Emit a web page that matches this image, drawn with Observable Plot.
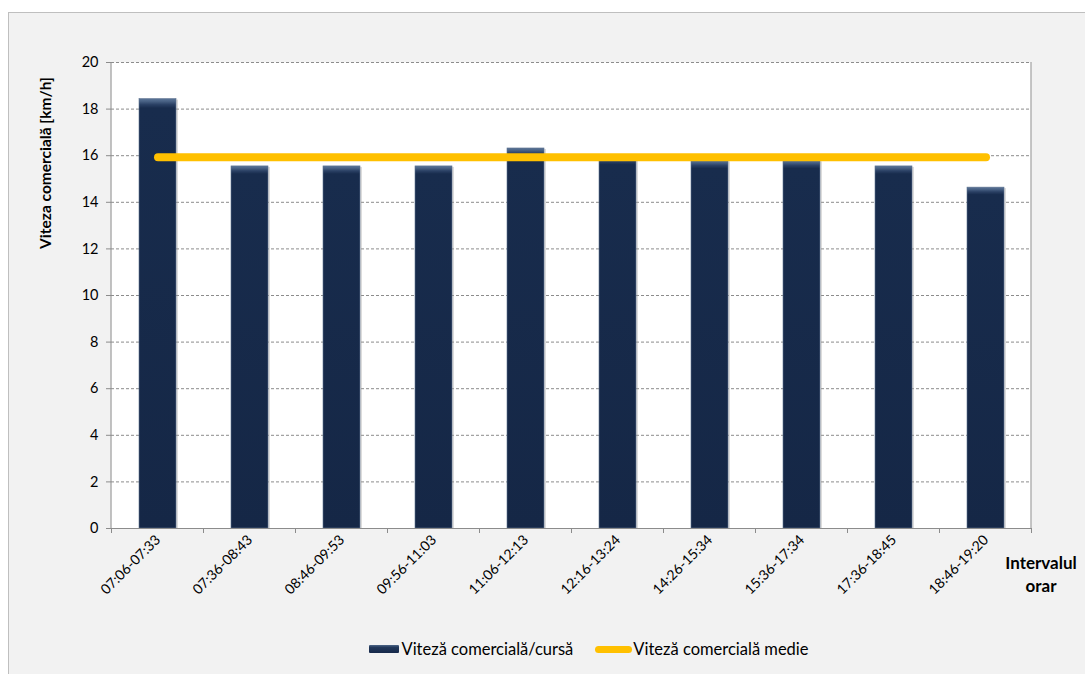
<!DOCTYPE html>
<html><head><meta charset="utf-8">
<script src="https://cdn.jsdelivr.net/npm/d3@7"></script>
<script src="https://cdn.jsdelivr.net/npm/@observablehq/plot@0.6"></script>
<style>
body{margin:0;background:#fff;font-family:Lato,"Open Sans",sans-serif;}
#box{position:absolute;left:8px;top:12px;width:1090px;height:670px;border:1px solid #bfbfbf;background:#f2f2f2;overflow:hidden}
#chart{position:absolute;left:0;top:0}
#ylab{position:absolute;left:-84px;top:140px;width:240px;height:20px;line-height:20px;text-align:center;transform:rotate(-90deg);font-weight:bold;font-size:15.5px;color:#000}
#xlab{position:absolute;left:982px;top:538px;width:100px;text-align:center;font-weight:bold;font-size:17px;line-height:23px;color:#000}
#legend{position:absolute;left:0;width:1160px;top:627px;display:flex;justify-content:center;align-items:center;font-size:16.5px;color:#000;height:18px}
.sw-bar{width:30px;height:8px;background:linear-gradient(#4d6688 0%,#22385a 30%,#16284a 100%);margin-right:2px;border-radius:1px}
.sw-line{width:37px;height:7px;background:#ffc000;border-radius:4px;margin-left:22px;margin-right:1px}
</style></head>
<body>
<div id="box">
  <div id="chart"></div>
  <div id="ylab">Viteza comercială [km/h]</div>
  <div id="xlab">Intervalul<br>orar</div>
  <div id="legend"><span class="sw-bar"></span><span>Viteză comercială/cursă</span><span class="sw-line"></span><span>Viteză comercială medie</span></div>
</div>
<script>
const intervals = ["07:06-07:33","07:36-08:43","08:46-09:53","09:56-11:03","11:06-12:13","12:16-13:24","14:26-15:34","15:36-17:34","17:36-18:45","18:46-19:20"];
const speeds = [18.43, 15.54, 15.54, 15.54, 16.31, 15.95, 15.78, 15.78, 15.54, 14.63];
const averageSpeed = 15.93;
const yTicks = [0,2,4,6,8,10,12,14,16,18,20];

const data = intervals.map((interval, i) => ({interval, speed: speeds[i]}));
const avg = intervals.map(interval => ({interval, speed: averageSpeed}));

const boundaryMark = (index, scales, values, dim) => {
  const x = scales.x, y = scales.y;
  const g = d3.create("svg:g");
  const plotW = dim.width - dim.marginLeft - dim.marginRight;
  const step = x.step ? x.step() : plotW / intervals.length;
  const bw = x.bandwidth ? x.bandwidth() : step * 0.4;
  const start = x(intervals[0]) - (step - bw) / 2;
  const y0 = y(0), yTop = y(20);
  const left = dim.marginLeft, right = dim.width - dim.marginRight;
  g.append("line").attr("x1", left).attr("x2", left).attr("y1", yTop).attr("y2", y0).attr("stroke", "#8c8c8c");
  g.append("line").attr("x1", right).attr("x2", right).attr("y1", yTop).attr("y2", y0).attr("stroke", "#8c8c8c");
  for (let i = 0; i <= intervals.length; i++) {
    const bx = start + i * step;
    g.append("line").attr("x1", bx).attr("x2", bx).attr("y1", y0).attr("y2", y0 + 5).attr("stroke", "#8c8c8c");
  }
  return g.node();
};

const svg = Plot.plot({
  width: 1076,
  height: 600,
  marginLeft: 102,
  marginRight: 54,
  marginTop: 49,
  marginBottom: 85,
  style: {background: "transparent", fontFamily: "Lato, 'Open Sans', sans-serif", fontSize: "14px", color: "#000"},
  x: {type: "band", domain: intervals, paddingInner: 0.6, paddingOuter: 0.3, label: null},
  y: {domain: [0, 20], label: null},
  marks: [
    Plot.frame({fill: "white"}),
    Plot.ruleY(yTicks.filter(v => v > 0), {stroke: "#8c8c8c", strokeDasharray: "3,2"}),
    Plot.barY(data, {x: "interval", y: "speed", fill: "#9a9a9a", fillOpacity: 0.35, dx: 2, dy: 1}),
    Plot.barY(data, {x: "interval", y: "speed", fill: "url(#barGrad)", stroke: "#5f7390", strokeWidth: 0.6}),
    Plot.lineY(avg, {x: "interval", y: "speed", stroke: "#ffc000", strokeWidth: 8, strokeLinecap: "round"}),
    Plot.ruleY([0], {stroke: "#8c8c8c"}),
    boundaryMark,
    Plot.axisY({ticks: yTicks, tickSize: 5, tickPadding: 8, stroke: "#8c8c8c", fill: "#000", fontSize: 14.5, label: null}),
    Plot.axisX({tickSize: 0, tickRotate: -45, tickPadding: 9, fill: "#000", fontSize: 14, label: null})
  ]
});

const defs = d3.select(svg).insert("defs", ":first-child");
const grad = defs.append("linearGradient").attr("id", "barGrad").attr("x1", 0).attr("y1", 0).attr("x2", 0).attr("y2", 1);
[["0%","#5a7497"],["0.6%","#4a6386"],["1.4%","#2a4064"],["2.2%","#182c4d"],["100%","#152746"]].forEach(([o,c]) =>
  grad.append("stop").attr("offset", o).attr("stop-color", c));

document.getElementById("chart").appendChild(svg);
</script>
</body></html>
